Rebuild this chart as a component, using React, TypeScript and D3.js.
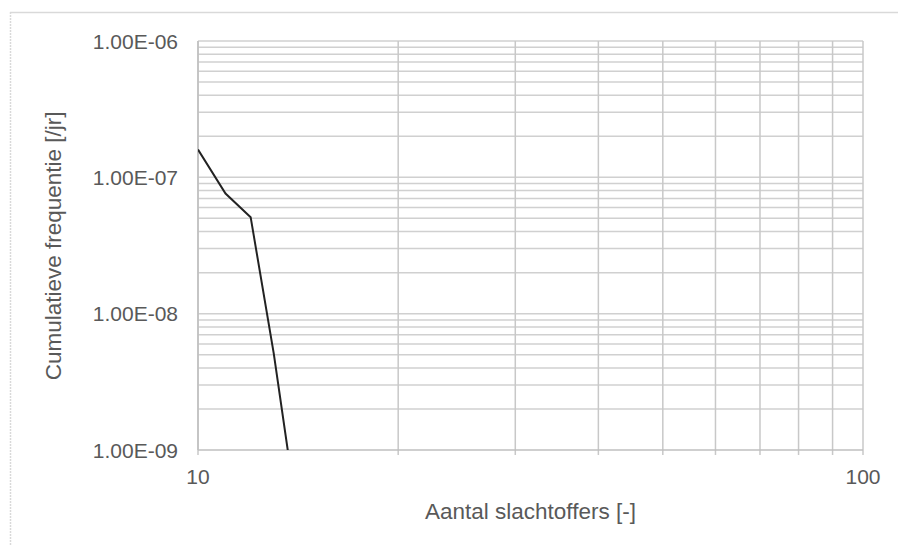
import React from "react";
import * as d3 from "d3";

const victims = [10, 11, 12, 13, 14];
const frequency = [1.6e-7, 7.6e-8, 5.1e-8, 5.1e-9, 4.2e-10];
const yTickLabels = ["1.00E-09", "1.00E-08", "1.00E-07", "1.00E-06"];
const yTickValues = [1e-9, 1e-8, 1e-7, 1e-6];
const xTickLabels = ["10", "100"];
const xTickValues = [10, 100];
const xTitle = "Aantal slachtoffers [-]";
const yTitle = "Cumulatieve frequentie [/jr]";

const W = 898;
const H = 546;
const M = { left: 198, right: 863, top: 41, bottom: 450 };
const FONT = "'Liberation Sans', Arial, sans-serif";
const TEXT = "#595959";

export default function App() {
  const x = d3.scaleLog().domain([10, 100]).range([M.left, M.right]);
  const y = d3.scaleLog().domain([1e-9, 1e-6]).range([M.bottom, M.top]);

  const xGrid: number[] = [];
  for (let v = 20; v <= 90; v += 10) xGrid.push(v);
  const yGrid: number[] = [];
  for (let e = -9; e < -6; e++) {
    for (let k = 2; k <= 10; k++) yGrid.push(k * Math.pow(10, e));
  }
  const xTicks: number[] = [10, ...xGrid, 100];

  const line = d3
    .line<number>()
    .x((_, i) => x(victims[i]))
    .y((d) => y(d));

  return (
    <svg width={W} height={H} style={{ position: "absolute", left: 0, top: 0 }}>
      <defs>
        <clipPath id="plotclip">
          <rect x={M.left} y={M.top} width={M.right - M.left} height={M.bottom - M.top} />
        </clipPath>
      </defs>
      <rect x={0} y={0} width={W} height={H} fill="#fff" />
      {/* outer frame */}
      <line x1={10} y1={12.5} x2={W} y2={12.5} stroke="#d9d9d9" strokeWidth={1.5} />
      <line x1={10.5} y1={12} x2={10.5} y2={H} stroke="#d9d9d9" strokeWidth={1.5} strokeDasharray="2,1" />

      {/* horizontal grid */}
      {yGrid.map((v, i) => (
        <line key={"hy" + i} x1={M.left} x2={M.right} y1={y(v)} y2={y(v)} stroke="#d0d0d0" strokeWidth={1.5} />
      ))}
      {/* vertical grid */}
      {xTicks.map((v, i) => (
        <line key={"vx" + i} x1={x(v)} x2={x(v)} y1={M.top} y2={M.bottom + 5} stroke="#c8c8c8" strokeWidth={1.5} />
      ))}
      {/* axis lines */}
      <line x1={M.left} x2={M.right} y1={M.bottom} y2={M.bottom} stroke="#bfbfbf" strokeWidth={1.5} />
      <line x1={M.left} x2={M.left} y1={M.top} y2={M.bottom} stroke="#bfbfbf" strokeWidth={1.5} />

      {/* data line */}
      <path d={line(frequency) || ""} fill="none" stroke="#222" strokeWidth={2} clipPath="url(#plotclip)" />

      {/* y tick labels */}
      {yTickValues.map((v, i) => (
        <text key={"yl" + i} x={178} y={y(v)} dy="0.36em" textAnchor="end" fontFamily={FONT} fontSize={21} fill={TEXT}>
          {yTickLabels[i]}
        </text>
      ))}
      {/* x tick labels */}
      {xTickValues.map((v, i) => (
        <text key={"xl" + i} x={x(v)} y={484} textAnchor="middle" fontFamily={FONT} fontSize={21} fill={TEXT}>
          {xTickLabels[i]}
        </text>
      ))}
      <text x={(M.left + M.right) / 2} y={519} textAnchor="middle" fontFamily={FONT} fontSize={22.5} fill={TEXT}>
        {xTitle}
      </text>
      <text
        transform={`translate(61, ${(111.7 + 380) / 2}) rotate(-90)`}
        textAnchor="middle"
        fontFamily={FONT}
        fontSize={22.5}
        fill={TEXT}
      >
        {yTitle}
      </text>
    </svg>
  );
}
